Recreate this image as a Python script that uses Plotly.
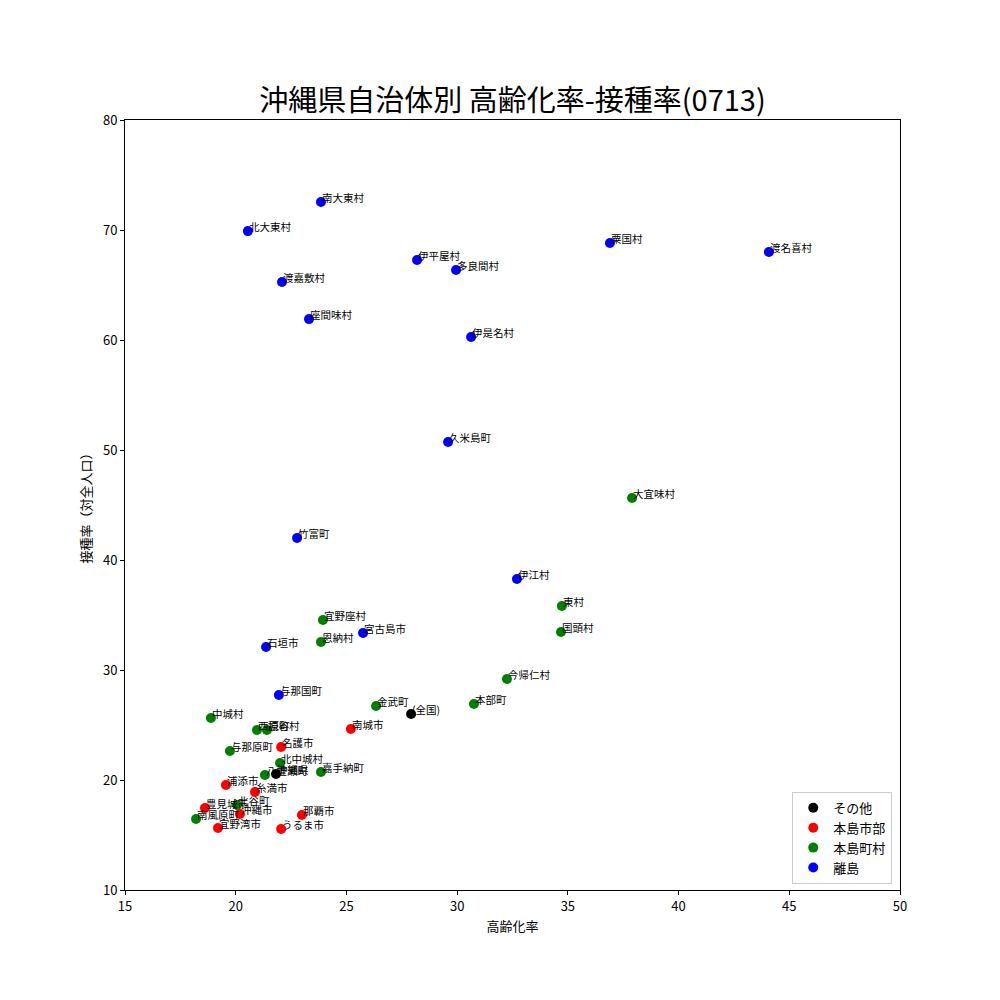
import plotly.graph_objects as go

# data: (name, elderly rate %, vaccination rate %)
other_names = ["(全国)", "沖縄県"]
other_x = [27.92, 21.82]
other_y = [26.0, 20.55]

city_names = ["南城市", "名護市", "浦添市", "糸満市", "沖縄市", "豊見城市", "宜野湾市", "那覇市", "うるま市"]
city_x = [25.2, 22.05, 19.56, 20.87, 20.19, 18.61, 19.2, 22.99, 22.05]
city_y = [24.64, 23.0, 19.55, 18.91, 16.91, 17.45, 15.64, 16.82, 15.55]

town_names = ["大宜味村", "東村", "国頭村", "宜野座村", "恩納村", "今帰仁村", "本部町", "金武町",
              "中城村", "西原町", "読谷村", "与那原町", "北中城村", "八重瀬町", "嘉手納町",
              "北谷町", "南風原町"]
town_x = [37.9, 34.73, 34.69, 23.94, 23.85, 32.25, 30.76, 26.34,
          18.88, 20.96, 21.41, 19.74, 22.0, 21.32, 23.85,
          20.06, 18.21]
town_y = [45.64, 35.82, 33.45, 34.55, 32.55, 29.18, 26.91, 26.73,
          25.64, 24.55, 24.55, 22.64, 21.55, 20.45, 20.73,
          17.73, 16.45]

island_names = ["南大東村", "北大東村", "渡嘉敷村", "座間味村", "伊平屋村", "多良間村", "伊是名村",
                "粟国村", "渡名喜村", "久米島町", "竹富町", "伊江村", "宮古島市", "石垣市", "与那国町"]
island_x = [23.85, 20.55, 22.09, 23.31, 28.19, 29.95, 30.63,
            36.9, 44.08, 29.59, 22.77, 32.7, 25.75, 21.37, 21.95]
island_y = [72.55, 69.9, 65.27, 61.9, 67.27, 66.36, 60.27,
            68.82, 68.0, 50.73, 42.0, 38.27, 33.36, 32.09, 27.73]

groups = [
    ("その他", "black", other_names, other_x, other_y),
    ("本島市部", "red", city_names, city_x, city_y),
    ("本島町村", "green", town_names, town_x, town_y),
    ("離島", "blue", island_names, island_x, island_y),
]

FONT = "Noto Sans CJK JP"
fig = go.Figure()
annotations = []
for label, color, names, xs, ys in groups:
    fig.add_trace(go.Scatter(
        x=xs, y=ys, mode="markers", name=label,
        marker=dict(color=color, size=10, line=dict(width=0)),
    ))
    for n, xv, yv in zip(names, xs, ys):
        annotations.append(dict(
            x=xv, y=yv, xref="x", yref="y", text=n, showarrow=False,
            xanchor="left", yanchor="bottom", yshift=-5, xshift=-1,
            font=dict(family=FONT, size=10.5, color="black"),
        ))

fig.update_layout(
    width=1000, height=1000,
    margin=dict(l=117, r=108, t=112, b=118),
    paper_bgcolor="white", plot_bgcolor="white",
    font=dict(family=FONT, color="black", size=13),
    title=dict(text="沖縄県自治体別 高齢化率-接種率(0713)", x=0.5045, xanchor="center",
               y=0.907, yanchor="middle", font=dict(size=29, family=FONT)),
    annotations=annotations,
    showlegend=True,
    legend=dict(x=0.99, y=0.008, xanchor="right", yanchor="bottom",
                bordercolor="#cccccc", borderwidth=1, bgcolor="rgba(255,255,255,0.8)",
                font=dict(size=13, family=FONT)),
)
fig.update_xaxes(range=[15, 50], tickvals=[15, 20, 25, 30, 35, 40, 45, 50],
                 showgrid=False, zeroline=False, showline=True, linecolor="black", linewidth=1,
                 mirror=True, ticks="outside", ticklen=4, tickcolor="black",
                 title=dict(text="高齢化率", font=dict(size=13), standoff=8),
                 tickfont=dict(size=13))
fig.update_yaxes(range=[10, 80], tickvals=[10, 20, 30, 40, 50, 60, 70, 80],
                 showgrid=False, zeroline=False, showline=True, linecolor="black", linewidth=1,
                 mirror=True, ticks="outside", ticklen=4, tickcolor="black",
                 title=dict(text="接種率（対全人口）", font=dict(size=13), standoff=8),
                 tickfont=dict(size=13))

fig.write_html("out.html")
